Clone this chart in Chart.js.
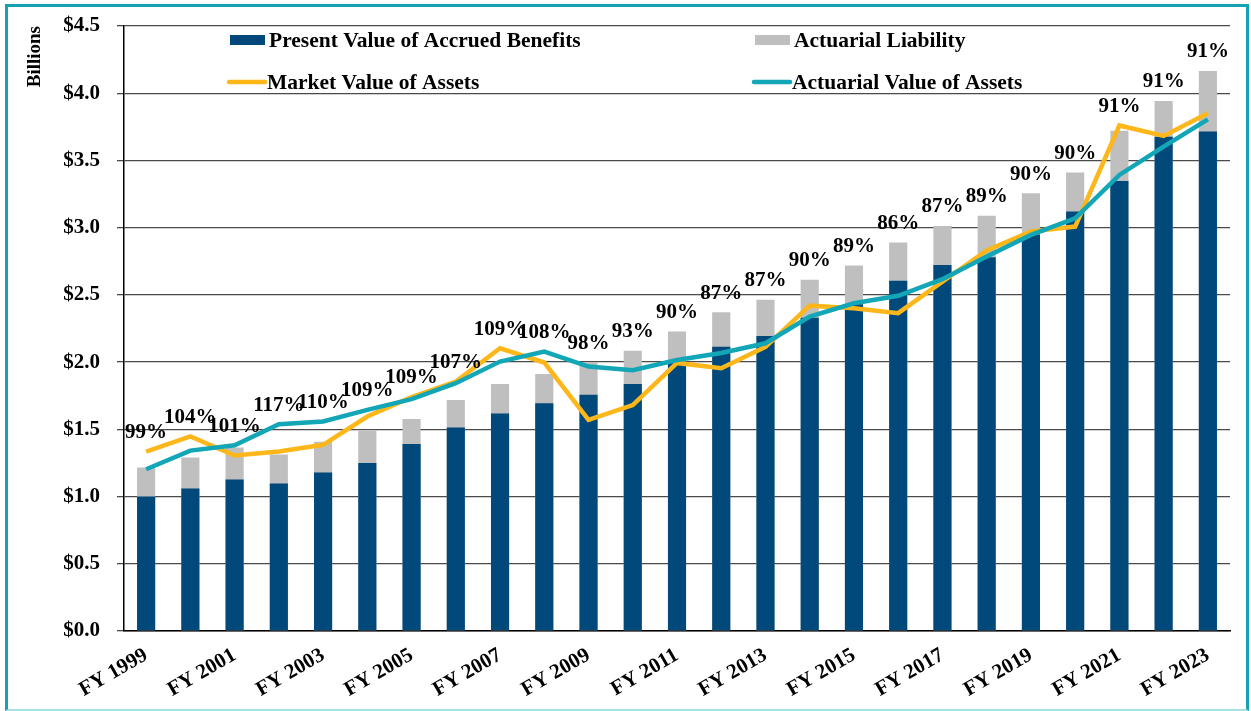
<!DOCTYPE html>
<html>
<head>
<meta charset="utf-8">
<script src="https://cdn.jsdelivr.net/npm/chart.js@4.4.1/dist/chart.umd.min.js"></script>
<style>
  html, body { margin: 0; padding: 0; background: #fff; }
  #wrap { position: relative; width: 1251px; height: 711px; }
  #frame {
    position: absolute; left: 5px; top: 4px; width: 1244px; height: 707px;
    box-sizing: border-box; border: 3px solid #14a3b4; border-bottom: 2px solid #a6e1e6;
    pointer-events: none;
  }
</style>
</head>
<body>
<div id="wrap">
  <canvas id="fundChart"></canvas>
  <div id="frame"></div>
</div>
<script>
// Fiscal years on the category axis
const years = ['FY 1999', 'FY 2000', 'FY 2001', 'FY 2002', 'FY 2003', 'FY 2004', 'FY 2005',
  'FY 2006', 'FY 2007', 'FY 2008', 'FY 2009', 'FY 2010', 'FY 2011', 'FY 2012', 'FY 2013',
  'FY 2014', 'FY 2015', 'FY 2016', 'FY 2017', 'FY 2018', 'FY 2019', 'FY 2020', 'FY 2021',
  'FY 2022', 'FY 2023'];

// Values in billions of dollars
const presentValue = [1.00, 1.06, 1.127, 1.097, 1.179, 1.25, 1.39, 1.513, 1.617, 1.694, 1.758,
  1.838, 2.004, 2.115, 2.195, 2.33, 2.43, 2.606, 2.723, 2.78, 2.95, 3.12, 3.347, 3.677, 3.715];
const actuarialLiability = [1.216, 1.29, 1.365, 1.313, 1.407, 1.49, 1.577, 1.719, 1.838, 1.912,
  2.0, 2.085, 2.227, 2.37, 2.463, 2.612, 2.718, 2.889, 3.013, 3.088, 3.256, 3.41, 3.72, 3.943, 4.166];
const marketValue = [1.335, 1.447, 1.305, 1.335, 1.385, 1.595, 1.74, 1.855, 2.103, 1.997, 1.57,
  1.68, 1.994, 1.955, 2.114, 2.42, 2.40, 2.364, 2.599, 2.83, 2.971, 3.008, 3.76, 3.682, 3.851];
const actuarialValue = [1.203, 1.342, 1.382, 1.538, 1.558, 1.645, 1.725, 1.843, 2.004, 2.078,
  1.967, 1.94, 2.016, 2.068, 2.14, 2.339, 2.438, 2.493, 2.617, 2.785, 2.946, 3.07, 3.392, 3.603, 3.806];

// Funded ratio labels shown above each year
const fundedRatio = ['99%', '104%', '101%', '117%', '110%', '109%', '109%', '107%', '109%',
  '108%', '98%', '93%', '90%', '87%', '87%', '90%', '89%', '86%', '87%', '89%', '90%', '90%',
  '91%', '91%', '91%'];

const NAVY = '#00497a';
const GREY = '#bfbfbf';
const GOLD = '#fdb71a';
const TEAL = '#12a6b6';
const SERIF = '"Liberation Serif", "Times New Roman", serif';

// funded ratio text above the highest mark of each year
const ratioLabels = {
  id: 'ratioLabels',
  afterDatasetsDraw(chart) {
    const { ctx, scales: { x, y } } = chart;
    ctx.save();
    ctx.font = `bold 21px ${SERIF}`;
    ctx.fillStyle = '#000';
    ctx.textAlign = 'center';
    ctx.textBaseline = 'middle';
    fundedRatio.forEach((txt, i) => {
      const top = Math.max(actuarialLiability[i], marketValue[i], actuarialValue[i]);
      ctx.fillText(txt, x.getPixelForValue(i), y.getPixelForValue(top) - 19);
    });
    ctx.restore();
  }
};

// two-column legend drawn inside the plot area
const innerLegend = {
  id: 'innerLegend',
  afterDraw(chart) {
    const { ctx } = chart;
    const items = [
      { text: 'Present Value of Accrued Benefits', color: NAVY, box: true, x: 230, y: 40 },
      { text: 'Actuarial Liability', color: GREY, box: true, x: 755, y: 40 },
      { text: 'Market Value of Assets', color: GOLD, box: false, x: 228, y: 82 },
      { text: 'Actuarial Value of Assets', color: TEAL, box: false, x: 753, y: 82 }
    ];
    ctx.save();
    ctx.font = `bold 21.5px ${SERIF}`;
    ctx.textBaseline = 'middle';
    items.forEach(it => {
      if (it.box) {
        ctx.fillStyle = it.color;
        ctx.fillRect(it.x, it.y - 5, 35, 10);
      } else {
        ctx.strokeStyle = it.color;
        ctx.lineWidth = 4.5;
        ctx.lineCap = 'round';
        ctx.beginPath();
        ctx.moveTo(it.x + 1, it.y);
        ctx.lineTo(it.x + 37, it.y);
        ctx.stroke();
      }
      ctx.fillStyle = '#000';
      ctx.fillText(it.text, it.x + 39, it.y + 1);
    });
    ctx.restore();
  }
};

const ctx = document.getElementById('fundChart').getContext('2d');

new Chart(ctx, {
  type: 'bar',
  data: {
    labels: years,
    datasets: [
      {
        type: 'line',
        label: 'Actuarial Value of Assets',
        data: actuarialValue,
        borderColor: TEAL,
        borderWidth: 4.5,
        pointRadius: 0,
        order: 0
      },
      {
        type: 'line',
        label: 'Market Value of Assets',
        data: marketValue,
        borderColor: GOLD,
        borderWidth: 4.5,
        pointRadius: 0,
        order: 1
      },
      {
        label: 'Present Value of Accrued Benefits',
        data: presentValue,
        backgroundColor: NAVY,
        order: 2
      },
      {
        label: 'Actuarial Liability',
        data: actuarialLiability,
        backgroundColor: GREY,
        order: 3
      }
    ]
  },
  options: {
    responsive: true,
    maintainAspectRatio: false,
    animation: false,
    layout: { padding: { top: 26, right: 21, bottom: 0, left: 0 } },
    datasets: {
      bar: { grouped: false, categoryPercentage: 1, barPercentage: 0.41 }
    },
    scales: {
      x: {
        grid: { display: false },
        border: { display: true, color: '#000', width: 1.5 },
        ticks: {
          autoSkip: false,
          maxRotation: 30,
          minRotation: 30,
          padding: 4,
          color: '#000',
          font: { family: SERIF, size: 21, weight: 'bold' },
          callback: (v, i) => (i % 2 === 0 ? years[i] : '')
        },
        afterFit: scale => { scale.height = 80; }
      },
      y: {
        min: 0,
        max: 4.5,
        grid: { color: '#4a4a4a', lineWidth: 1.3, tickLength: 7 },
        border: { display: true, color: '#000', width: 1.5 },
        ticks: {
          stepSize: 0.5,
          padding: 17,
          color: '#000',
          font: { family: SERIF, size: 21, weight: 'bold' },
          callback: v => '$' + Number(v).toFixed(1)
        },
        title: {
          display: true,
          text: 'Billions',
          align: 'end',
          color: '#000',
          font: { family: SERIF, size: 19, weight: 'bold' },
          padding: { top: 24, bottom: 0 }
        },
        afterFit: scale => {
          scale.width = 124;
          scale.paddingTop = 0;
          scale.paddingBottom = 0;
        }
      }
    },
    plugins: {
      legend: { display: false },
      tooltip: { enabled: false }
    }
  },
  plugins: [ratioLabels, innerLegend]
});
</script>
</body>
</html>
